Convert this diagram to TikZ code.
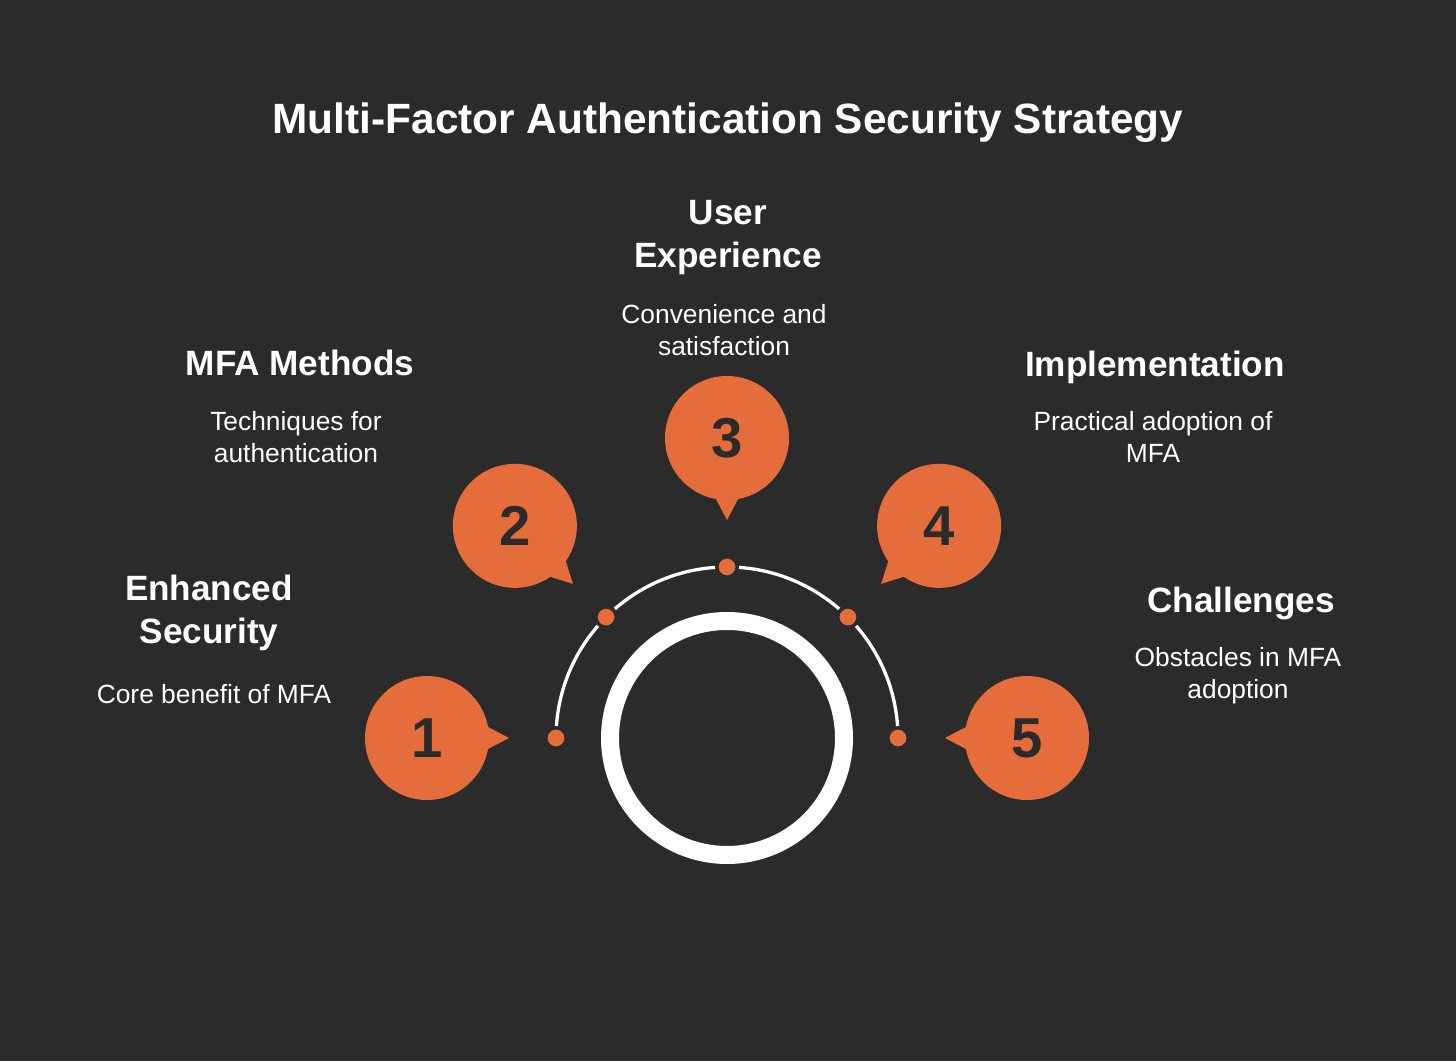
\documentclass[tikz,border=0pt]{standalone}
\usepackage{fontspec}
\setmainfont{Liberation Sans}
\usetikzlibrary{backgrounds}
\definecolor{mfabg}{RGB}{43,43,43}
\definecolor{mfaorange}{RGB}{229,108,59}

\begin{document}
\begin{tikzpicture}[
  x=0.1mm, y=0.1mm,
  bubble/.style={circle, fill=mfaorange, minimum size=12.4mm, inner sep=0pt,
                 text=mfabg, font=\fontsize{16}{16}\selectfont\bfseries},
  dot/.style={circle, fill=mfaorange, draw=mfabg, line width=0.35mm,
              minimum size=2.05mm, inner sep=0pt},
  ring/.style={circle, draw=white, line width=1.8mm, minimum size=23.4mm},
  track/.style={draw=white, line width=0.33mm},
  head/.style={text=white, align=center, inner sep=0pt,
               font=\fontsize{10}{12.2}\selectfont\bfseries},
  desc/.style={text=white, align=center, inner sep=0pt,
               font=\fontsize{7.5}{9.1}\selectfont}
]
\coordinate (c) at (727,323);

\node[ring] (core) at (c) {};

\node[dot] (d1) at ([shift={(180:171)}]c) {};
\node[dot] (d2) at ([shift={(135:171)}]c) {};
\node[dot] (d3) at ([shift={(90:171)}]c) {};
\node[dot] (d4) at ([shift={(45:171)}]c) {};
\node[dot] (d5) at ([shift={(0:171)}]c) {};

\begin{scope}[on background layer]
  \fill[mfabg] (0,0) rectangle (1456,1061);
  \draw[track] (d1.center) arc[start angle=180, end angle=0, radius=17.1mm];
\end{scope}

\node[bubble] (b1) at ([shift={(180:300)}]c) {1};
\node[bubble] (b2) at ([shift={(135:300)}]c) {2};
\node[bubble] (b3) at ([shift={(90:300)}]c) {3};
\node[bubble] (b4) at ([shift={(45:300)}]c) {4};
\node[bubble] (b5) at ([shift={(0:300)}]c) {5};

\fill[mfaorange] ([shift={(22:50)}]b1.center) -- ([shift={(0:82)}]b1.center) -- ([shift={(-22:50)}]b1.center) -- cycle;
\fill[mfaorange] ([shift={(-23:50)}]b2.center) -- ([shift={(-45:82)}]b2.center) -- ([shift={(-67:50)}]b2.center) -- cycle;
\fill[mfaorange] ([shift={(-68:50)}]b3.center) -- ([shift={(-90:82)}]b3.center) -- ([shift={(-112:50)}]b3.center) -- cycle;
\fill[mfaorange] ([shift={(203:50)}]b4.center) -- ([shift={(225:82)}]b4.center) -- ([shift={(247:50)}]b4.center) -- cycle;
\fill[mfaorange] ([shift={(158:50)}]b5.center) -- ([shift={(180:82)}]b5.center) -- ([shift={(202:50)}]b5.center) -- cycle;

\node[text=white, inner sep=0pt, font=\fontsize{12.05}{14}\selectfont\bfseries]
  (title) at (728,938) {Multi-Factor Authentication Security Strategy};

\node[head] (h1) at (209,448) {Enhanced\\Security};
\node[desc] (t1) at (214,367) {Core benefit of MFA};
\node[head] (h2) at (300,698) {MFA Methods};
\node[desc] (t2) at (296,624) {Techniques for\\authentication};
\node[head] (h3) at (728,823) {User\\Experience};
\node[desc] (t3) at (724,731) {Convenience and\\satisfaction};
\node[head] (h4) at (1155,694) {Implementation};
\node[desc] (t4) at (1153,624) {Practical adoption of\\MFA};
\node[head] (h5) at (1241,458) {Challenges};
\node[desc] (t5) at (1238,385) {Obstacles in MFA\\adoption};
\end{tikzpicture}
\end{document}
